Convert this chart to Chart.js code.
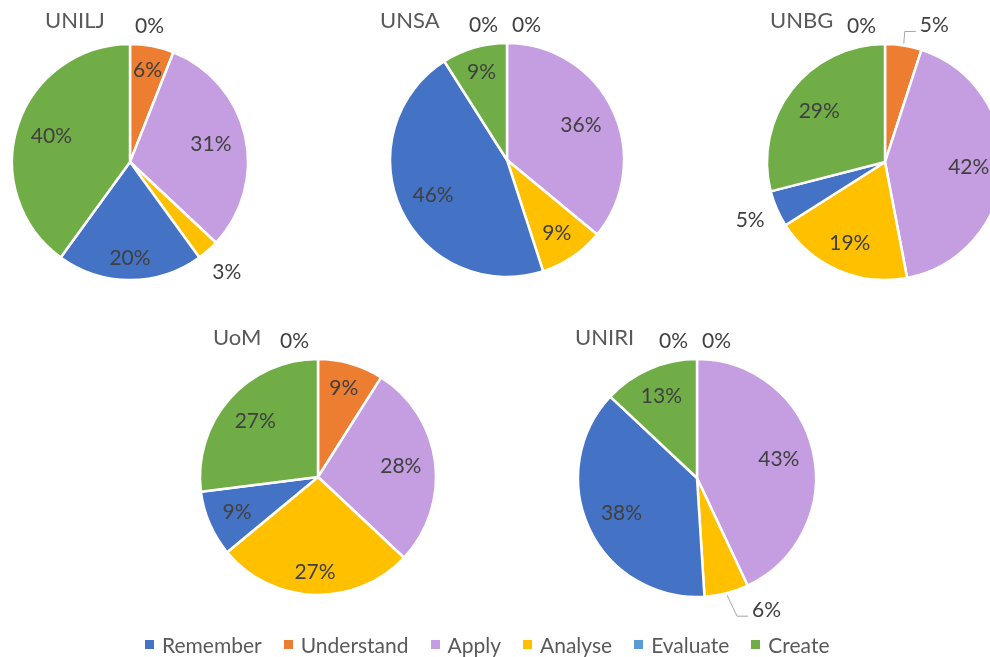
<!DOCTYPE html>
<html>
<head>
<meta charset="utf-8">
<script src="https://cdn.jsdelivr.net/npm/chart.js@4.4.1/dist/chart.umd.min.js"></script>
<style>
  html, body { margin: 0; padding: 0; background: #fff; }
  body { width: 990px; height: 657px; overflow: hidden; position: relative; font-family: Lato, sans-serif; }
  canvas { position: absolute; }
  #legend { position: absolute; left: 145px; top: 634px; height: 21px; display: flex; align-items: center;
            font-size: 21px; line-height: 21px; color: #595959; white-space: nowrap; z-index: 2; }
  #legend .item { display: flex; align-items: center; margin-right: 22px; }
  #legend .box { width: 9px; height: 9px; margin-right: 8px; }
</style>
</head>
<body>
<div id="legend"></div>
<script>
// categories in legend order
const categories = ['Remember', 'Understand', 'Apply', 'Analyse', 'Evaluate', 'Create'];
const colors = ['#4472C4', '#ED7D31', '#C49EE0', '#FFC000', '#5B9BD5', '#70AD47'];

// share of questions per level (%)
const unilj = [20, 6, 31, 3, 0, 40];
const unsa  = [46, 0, 36, 9, 0, 9];
const unbg  = [5, 5, 42, 19, 0, 29];
const uom   = [9, 9, 28, 27, 0, 27];
const uniri = [38, 0, 43, 6, 0, 13];

const universities = ['UNILJ', 'UNSA', 'UNBG', 'UoM', 'UNIRI'];
const series = [unilj, unsa, unbg, uom, uniri];

// slices are drawn clockwise from 12 o'clock in this order
const drawOrder = [1, 2, 3, 0, 5, 4];

// where each pie sits on the page and how its labels are placed
const layouts = [
  { cx: 130, cy: 162, r: 118, tdx: -85,  tdy: -141, zeroRight: true, outside: ['Analyse'] },
  { cx: 507, cy: 160, r: 117, tdx: -127, tdy: -139, outside: [] },
  { cx: 885, cy: 162, r: 118, tdx: -115, tdy: -141, outside: ['Remember'], leader: { Understand: [16, -18] } },
  { cx: 318, cy: 477, r: 118, tdx: -105, tdy: -139, outside: [] },
  { cx: 697, cy: 478, r: 119, tdx: -122, tdy: -140, outside: [], leader: { Analyse: [25, 15] } }
];

const HALF = 180; // half of the canvas size

const pieLabels = {
  id: 'pieLabels',
  afterDatasetsDraw(chart, args, opts) {
    const ctx = chart.ctx;
    const lay = opts.layout;
    const meta = chart.getDatasetMeta(0);
    const values = chart.data.datasets[0].data;
    const names = chart.data.labels;
    const total = values.reduce((a, b) => a + b, 0);
    ctx.save();

    // title
    ctx.font = '22px Lato';
    ctx.fillStyle = '#595959';
    ctx.textAlign = 'left';
    ctx.textBaseline = 'middle';
    ctx.fillText(opts.title, HALF + lay.tdx, HALF + lay.tdy);

    ctx.font = '21px Lato';
    ctx.fillStyle = '#404040';
    ctx.textAlign = 'center';
    meta.data.forEach((arc, i) => {
      const p = arc.getProps(['x', 'y', 'startAngle', 'endAngle', 'outerRadius'], true);
      const name = names[i];
      const v = values[i];
      const text = Math.round(v / total * 100) + '%';
      const hw = ctx.measureText(text).width / 2;
      const hh = 9;
      const mid = (p.startAngle + p.endAngle) / 2;
      const c = Math.cos(mid), s = Math.sin(mid);
      const ext = hw * Math.abs(c) + hh * Math.abs(s);
      let lx, ly;
      if (v === 0) {
        const right = lay.zeroRight || Math.abs(p.startAngle + Math.PI / 2) < 1e-6;
        ly = p.y - p.outerRadius - 18;
        lx = right ? p.x + 5 + hw : p.x - 9 - hw;
      } else if (lay.leader && lay.leader[name]) {
        const [dx, dy] = lay.leader[name];
        const x0 = p.x + (p.outerRadius + 2) * c;
        const y0 = p.y + (p.outerRadius + 2) * s;
        const left = x0 + dx;
        ly = y0 + dy;
        lx = left + hw;
        ctx.strokeStyle = '#A6A6A6';
        ctx.lineWidth = 1;
        ctx.beginPath();
        ctx.moveTo(x0, y0);
        ctx.lineTo(left - 15, ly + 6);
        ctx.lineTo(left - 4, ly + 6);
        ctx.stroke();
      } else if (lay.outside.includes(name)) {
        const d = p.outerRadius + 12 + ext;
        lx = p.x + d * c;
        ly = p.y + d * s;
      } else {
        const d = 0.89 * p.outerRadius - ext;
        lx = p.x + d * c;
        ly = p.y + d * s;
      }
      ctx.fillText(text, lx, ly);
    });
    ctx.restore();
  }
};

function buildLegend() {
  const legend = document.getElementById('legend');
  categories.forEach((name, i) => {
    const item = document.createElement('div');
    item.className = 'item';
    const box = document.createElement('span');
    box.className = 'box';
    box.style.background = colors[i];
    item.appendChild(box);
    item.appendChild(document.createTextNode(name));
    legend.appendChild(item);
  });
}

function buildCharts() {
  series.forEach((vals, k) => {
    const lay = layouts[k];
    const canvas = document.createElement('canvas');
    canvas.width = HALF * 2;
    canvas.height = HALF * 2;
    canvas.style.left = (lay.cx - HALF) + 'px';
    canvas.style.top = (lay.cy - HALF) + 'px';
    document.body.appendChild(canvas);

    new Chart(canvas.getContext('2d'), {
      type: 'pie',
      data: {
        labels: drawOrder.map(i => categories[i]),
        datasets: [{
          data: drawOrder.map(i => vals[i]),
          backgroundColor: drawOrder.map(i => colors[i]),
          borderColor: '#ffffff',
          borderWidth: 2.5
        }]
      },
      options: {
        responsive: false,
        animation: false,
        radius: lay.r,
        layout: { padding: 0 },
        events: [],
        plugins: {
          legend: { display: false },
          tooltip: { enabled: false },
          pieLabels: { title: universities[k], layout: lay }
        }
      },
      plugins: [pieLabels]
    });
  });
}

buildLegend();
document.fonts.load('21px Lato').then(buildCharts, buildCharts);
</script>
</body>
</html>
